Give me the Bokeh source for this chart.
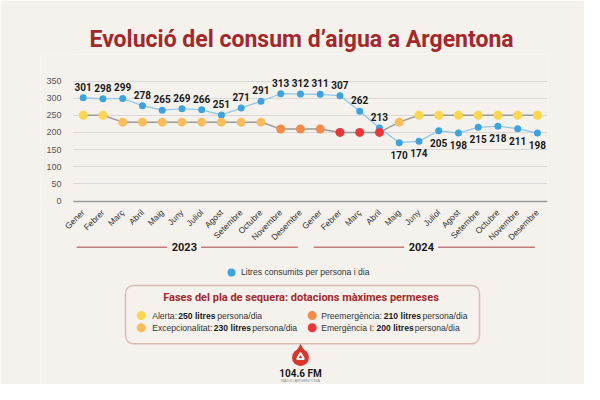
import math
from bokeh.plotting import figure
from bokeh.models import (FixedTicker, Range1d, Legend, LegendItem, BoxAnnotation,
                          ColumnDataSource)
from bokeh.core.properties import value
from bokeh.embed import file_html
from bokeh.resources import INLINE

# ---------------- data ----------------
months = ["Gener", "Febrer", "Març", "Abril", "Maig", "Juny", "Juliol", "Agost",
          "Setembre", "Octubre", "Novembre", "Desembre"]
years = ["2023", "2024"]
month_labels = months + months
consum = [301, 298, 299, 278, 265, 269, 266, 251, 271, 291, 313, 312,
          311, 307, 262, 213, 170, 174, 205, 198, 215, 218, 211, 198]
phase_names = ["Alerta", "Excepcionalitat", "Preemergència", "Emergència I"]
phase_limits = [250, 230, 210, 200]
phase_colors = ["#FCD64E", "#FBBD5B", "#F28C4B", "#E8363A"]
phase_by_month = (["Alerta"] * 2 + ["Excepcionalitat"] * 8 + ["Preemergència"] * 3 +
                  ["Emergència I"] * 3 + ["Excepcionalitat"] + ["Alerta"] * 7)
y_ticks = [0, 50, 100, 150, 200, 250, 300, 350]

# ---------------- layout helpers (canvas pixels -> data) ----------------
W, H = 584, 384
PXU = 120.0 / 350.0      # pixels per litre
Y0 = 200.5               # canvas y of value 0
X0, DX = 82.7, 19.75     # canvas x of first month, spacing
FL, FR, FT = 40, 547, 54  # frame left / right / top
PL = 73                   # left edge of the plotting area (grid start)


def yd(p):
    return (Y0 - p) / PXU


def xd(p):
    return (p - X0) / DX


BG = "#F5F2ED"
RED = "#A3282B"
FONT = "Liberation Sans"
BFONT = "Roboto"

xs = list(range(len(consum)))
phase_vals = [phase_limits[phase_names.index(n)] for n in phase_by_month]
phase_cols = [phase_colors[phase_names.index(n)] for n in phase_by_month]

p = figure(width=W, height=H, output_backend="svg", toolbar_location=None,
           x_range=Range1d(xd(FL), xd(FR)), y_range=Range1d(yd(H), yd(FT)),
           min_border_left=FL, min_border_right=W - FR, min_border_top=FT, min_border_bottom=0,
           background_fill_color=BG, border_fill_color=BG, outline_line_color=None,
           title="Evolució del consum d’aigua a Argentona")
p.title.text_font = BFONT
p.title.text_font_size = "23px"
p.title.text_font_style = "bold"
p.title.text_color = RED
p.title.align = "left"
p.title.offset = 89 - FL
p.title.standoff = 3

# axes
p.yaxis.fixed_location = xd(PL)
p.yaxis.ticker = FixedTicker(ticks=y_ticks)
p.yaxis.axis_line_color = None
p.yaxis.major_tick_line_color = None
p.yaxis.minor_tick_line_color = None
p.yaxis.major_label_text_font = FONT
p.yaxis.major_label_text_font_size = "9px"
p.yaxis.major_label_text_color = "#555555"
p.yaxis.major_label_standoff = 6

p.xaxis.fixed_location = 0
p.xaxis.bounds = (xd(PL), xd(FR))
p.xaxis.ticker = FixedTicker(ticks=xs)
p.xaxis.major_label_overrides = {i: month_labels[i] for i in xs}
p.xaxis.major_label_orientation = math.pi / 4
p.xaxis.axis_line_color = "#9A9A9A"
p.xaxis.axis_line_width = 1.5
p.xaxis.major_tick_line_color = None
p.xaxis.minor_tick_line_color = None
p.xaxis.major_label_text_font = FONT
p.xaxis.major_label_text_font_size = "8.5px"
p.xaxis.major_label_text_color = "#333333"
p.xaxis.major_label_standoff = 4

p.xgrid.visible = False
p.ygrid.grid_line_color = "#D9D9D9"
p.ygrid.grid_line_width = 1
# keep grid lines from running under the y tick labels
p.add_layout(BoxAnnotation(right=xd(PL - 0.5), fill_color=BG, fill_alpha=1, line_color=None,
                           level="underlay"))

# series
src = ColumnDataSource(dict(x=xs, consum=consum, phase=phase_vals, pcol=phase_cols))
p.line("x", "consum", source=src, line_color="#8CC4E8", line_width=1.2)
blue = p.scatter("x", "consum", source=src, size=7, fill_color="#3DA3DE", line_color=None)
p.line("x", "phase", source=src, line_color="#9A9A9A", line_width=1.5)
p.scatter("x", "phase", source=src, size=9, fill_color="pcol", line_color=None)

# value labels: above until the crossing, below afterwards
split = 16
p.text(xs[:split], consum[:split], text=[str(v) for v in consum[:split]], y_offset=-11,
       text_align="center", text_baseline="middle", text_font=value(BFONT),
       text_font_style="bold", text_font_size="10px", text_color="#1A1A1A")
p.text(xs[split:], consum[split:], text=[str(v) for v in consum[split:]], y_offset=12,
       text_align="center", text_baseline="middle", text_font=value(BFONT),
       text_font_style="bold", text_font_size="10px", text_color="#1A1A1A")

# year groups
Y_YEAR = yd(246.7)
for k, yr in enumerate(years):
    c = 12 * k + 5.5 - 0.38
    p.segment([c - 5.45, c + 0.85], [Y_YEAR, Y_YEAR], [c - 0.87, c + 5.75], [Y_YEAR, Y_YEAR],
              line_color="#C27A7A", line_width=1.5)
    p.text([c], [Y_YEAR], text=[yr], text_align="center", text_baseline="middle",
           text_font=value(BFONT), text_font_style="bold", text_font_size="11px",
           text_color="#1A1A1A")

# legend for the consumption series
legend = Legend(items=[LegendItem(label="Litres consumits per persona i dia", renderers=[blue])],
                location=(221 - FL, 102), glyph_width=20, glyph_height=20, label_standoff=0,
                padding=0, margin=0, background_fill_alpha=0, border_line_alpha=0,
                label_text_font=FONT, label_text_font_size="8.6px", label_text_color="#333333")
p.add_layout(legend)

# phases box
p.add_layout(BoxAnnotation(left=xd(125), right=xd(479), top=yd(285), bottom=yd(343.3),
                           fill_alpha=0, line_color="#A8393D", line_width=1.5, border_radius=8))
p.text([xd(300.5)], [yd(297.3)], text=["Fases del pla de sequera: dotacions màximes permeses"],
       text_align="center", text_baseline="middle", text_font=value(BFONT),
       text_font_style="bold", text_font_size="11px", text_color=RED)

# item layout: dot x, label x, bold x, tail x, row y (canvas px)
item_pos = [(140.7, 151.7, 177.7, 216.7, 315.0),
            (140.7, 151.7, 213.3, 251.7, 327.3),
            (311.7, 320.7, 383.3, 422.0, 315.0),
            (311.7, 320.7, 376.0, 414.3, 327.3)]
for name, lim, col, (dx, tx, bx, sx, ry) in zip(phase_names, phase_limits, phase_colors, item_pos):
    p.scatter([xd(dx)], [yd(ry)], size=9, fill_color=col, line_color=None)
    p.text([xd(tx)], [yd(ry)], text=[name + ":"], text_baseline="middle",
           text_font=value(FONT), text_font_size="8.6px", text_color="#333333")
    p.text([xd(bx)], [yd(ry)], text=[f"{lim} litres"], text_baseline="middle",
           text_font=value(FONT), text_font_style="bold", text_font_size="8.6px",
           text_color="#1A1A1A")
    p.text([xd(sx)], [yd(ry)], text=["persona/dia"], text_baseline="middle",
           text_font=value(FONT), text_font_size="8.6px", text_color="#333333")

# logo
LX = xd(300)
p.scatter([LX], [yd(357)], size=17, fill_color="#D8352C", line_color=None)
p.scatter([LX], [yd(351.5)], marker="triangle", size=14, fill_color="#D8352C", line_color=None)
p.scatter([LX], [yd(356.5)], marker="triangle", size=7, fill_color=None, line_color="white",
          line_width=2)
p.text([LX], [yd(373)], text=["104.6 FM"], text_align="center", text_baseline="middle",
       text_font=value(BFONT), text_font_style="bold", text_font_size="10px", text_color="#1A1A1A")
p.text([LX], [yd(380)], text=["RÀDIO ARGENTONA"], text_align="center", text_baseline="middle",
       text_font=value(FONT), text_font_size="4px", text_color="#888888")

open("out.html", "w").write(file_html(p, INLINE))
